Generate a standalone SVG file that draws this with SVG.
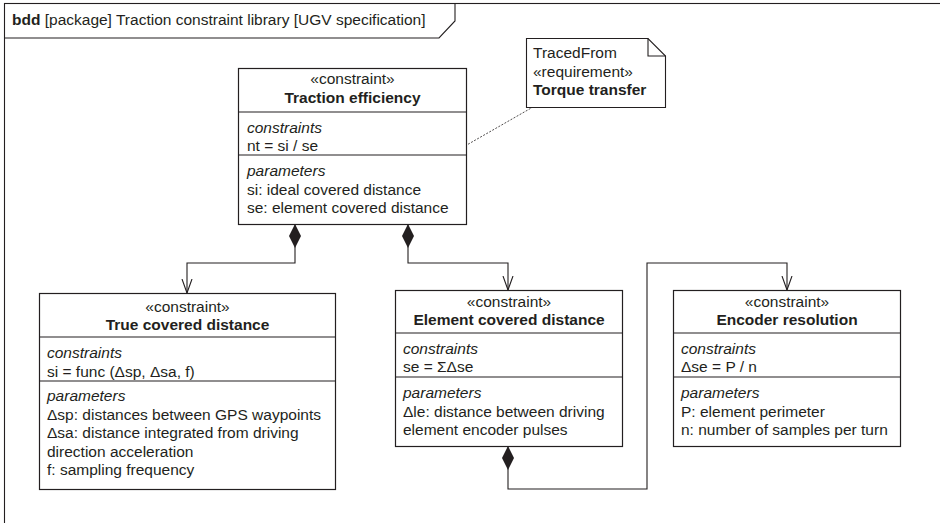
<svg xmlns="http://www.w3.org/2000/svg" width="940" height="523" viewBox="0 0 940 523">
<style>
text{font-family:"Liberation Sans",Arial,sans-serif;font-size:15.5px;fill:#231f20}
.b{font-weight:bold}
.i{font-style:italic}
.c{text-anchor:middle}
.box{fill:#fff;stroke:#231f20;stroke-width:1.2}
.div{stroke:#231f20;stroke-width:1.2}
.ln{fill:none;stroke:#231f20;stroke-width:1.1}
.dot{fill:none;stroke:#231f20;stroke-width:0.8;stroke-dasharray:2,1.5}
</style>
<defs>
<marker id="dia" markerUnits="userSpaceOnUse" viewBox="0 0 24 12" markerWidth="24" markerHeight="12" refX="0" refY="6" orient="auto">
<path d="M0,6 L12,0 L24,6 L12,12 Z" fill="#231f20"/>
</marker>
<marker id="arr" markerUnits="userSpaceOnUse" viewBox="0 0 14 12" markerWidth="14" markerHeight="12" refX="14" refY="6" orient="auto">
<path d="M0,1 L14,6 L0,11" fill="none" stroke="#231f20" stroke-width="1.1"/>
</marker>
</defs>
<rect width="940" height="523" fill="#fff"/>
<g id="frame">
<rect x="4.5" y="3.5" width="1000" height="600" fill="none" stroke="#231f20" stroke-width="1.1"/>
<path d="M4.5,38 H439 L455,21 V3.5" fill="none" stroke="#231f20" stroke-width="1.1"/>
<text x="12" y="25"><tspan class="b">bdd</tspan> [package] Traction constraint library [UGV specification]</text>
</g>
<g id="connectors">
<path class="ln" d="M295,224 V263 H187 V293" marker-start="url(#dia)" marker-end="url(#arr)"/>
<path class="ln" d="M408,224 V263 H508 V290" marker-start="url(#dia)" marker-end="url(#arr)"/>
<path class="ln" d="M508,446 V489 H647 V263 H787 V290" marker-start="url(#dia)" marker-end="url(#arr)"/>
<path class="dot" d="M465,146 L533,107"/>
</g>
<g id="traction-efficiency">
<rect class="box" x="238.5" y="68.5" width="228" height="156"/>
<line class="div" x1="238.5" y1="112" x2="466.5" y2="112"/>
<line class="div" x1="238.5" y1="155" x2="466.5" y2="155"/>
<text class="c" x="352.5" y="84">«constraint»</text>
<text class="c b" x="352.5" y="103">Traction efficiency</text>
<text class="i" x="247" y="133">constraints</text>
<text x="247" y="151">nt = si / se</text>
<text class="i" x="247" y="176">parameters</text>
<text x="247" y="195">si: ideal covered distance</text>
<text x="247" y="213">se: element covered distance</text>
</g>
<g id="note">
<path d="M526.5,38.5 H648 L665.5,56 V107.5 H526.5 Z" fill="#fff" stroke="#231f20" stroke-width="1.1"/>
<path d="M648,38.5 V56 H665.5" fill="none" stroke="#231f20" stroke-width="1.1"/>
<text x="533" y="58">TracedFrom</text>
<text x="533" y="77">«requirement»</text>
<text class="b" x="533" y="95">Torque transfer</text>
</g>
<g id="true-covered-distance">
<rect class="box" x="39.5" y="293.5" width="296" height="196"/>
<line class="div" x1="39.5" y1="337" x2="335.5" y2="337"/>
<line class="div" x1="39.5" y1="381" x2="335.5" y2="381"/>
<text class="c" x="187.5" y="312">«constraint»</text>
<text class="c b" x="187.5" y="330">True covered distance</text>
<text class="i" x="47" y="358">constraints</text>
<text x="47" y="377">si = func (Δsp, Δsa, f)</text>
<text class="i" x="47" y="401">parameters</text>
<text x="47" y="420">Δsp: distances between GPS waypoints</text>
<text x="47" y="438">Δsa: distance integrated from driving</text>
<text x="47" y="457">direction acceleration</text>
<text x="47" y="475">f: sampling frequency</text>
</g>
<g id="element-covered-distance">
<rect class="box" x="395.5" y="290.5" width="227" height="156"/>
<line class="div" x1="395.5" y1="333" x2="622.5" y2="333"/>
<line class="div" x1="395.5" y1="377" x2="622.5" y2="377"/>
<text class="c" x="509" y="307">«constraint»</text>
<text class="c b" x="509" y="325">Element covered distance</text>
<text class="i" x="403" y="354">constraints</text>
<text x="403" y="372">se = ΣΔse</text>
<text class="i" x="403" y="398">parameters</text>
<text x="403" y="417">Δle: distance between driving</text>
<text x="403" y="435">element encoder pulses</text>
</g>
<g id="encoder-resolution">
<rect class="box" x="673.5" y="290.5" width="227" height="156"/>
<line class="div" x1="673.5" y1="333" x2="900.5" y2="333"/>
<line class="div" x1="673.5" y1="377" x2="900.5" y2="377"/>
<text class="c" x="787" y="307">«constraint»</text>
<text class="c b" x="787" y="325">Encoder resolution</text>
<text class="i" x="681" y="354">constraints</text>
<text x="681" y="372">Δse = P / n</text>
<text class="i" x="681" y="398">parameters</text>
<text x="681" y="417">P: element perimeter</text>
<text x="681" y="435">n: number of samples per turn</text>
</g>
</svg>
